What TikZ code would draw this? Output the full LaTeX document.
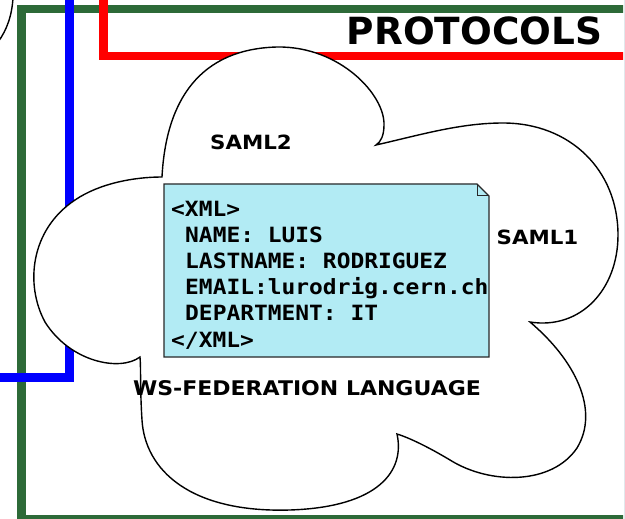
\documentclass[tikz,border=0pt]{standalone}
\usepackage{fontspec}
\setmainfont{DejaVu Sans}
\newfontfamily\widefont[FakeStretch=1.09]{DejaVu Sans}
\newfontfamily\codefont[FakeStretch=1.09]{DejaVu Sans Mono}
\definecolor{framegreen}{RGB}{45,106,56}
\definecolor{notecyan}{RGB}{178,235,244}
\definecolor{noteedge}{RGB}{40,40,40}
\definecolor{edgegray}{RGB}{225,232,236}
\tikzset{
  band/.style={line width=8.5pt, line join=miter},
  cloudline/.style={draw=black, line width=1.4pt, fill=white},
  label/.style={font=\widefont\bfseries\fontsize{19.6}{22}\selectfont, inner sep=0pt},
  codeline/.style={font=\codefont\bfseries\fontsize{21}{26}\selectfont, anchor=base west, inner sep=0pt},
}
\begin{document}
\begin{tikzpicture}[x=1pt,y=-1pt]
\useasboundingbox (0,0) rectangle (625,519);

% coloured frames
\begin{scope}
  \clip (0,0) rectangle (623,519);
  \draw[band, framegreen] (21.5,540) -- (21.5,9) -- (660,9);
  \draw[band, framegreen] (21.5,519) -- (660,519);
  \draw[band, blue] (69.5,-10) -- (69.5,377.5) -- (-10,377.5);
  \draw[band, red] (103.5,-10) -- (103.5,56) -- (660,56);
\end{scope}
\draw[edgegray, line width=1pt] (624.5,0) -- (624.5,519);

% arc in the upper left corner
\draw[black, line width=1.4pt] (13,-2) .. controls (12,15) and (7,30) .. (-2,42);

% cloud
\path[cloudline]
  (162,177) .. controls (166,100) and (200,49) .. (277,47)
            .. controls (340,46) and (385,95) .. (384,125)
            .. controls (384,135) and (381,142) .. (376,145)
            .. controls (420,135) and (460,123) .. (503,123)
            .. controls (570,123) and (618,170) .. (618,235)
            .. controls (618,290) and (580,330) .. (530,322)
            .. controls (575,360) and (600,410) .. (577,448)
            .. controls (552,485) and (490,485) .. (450,460)
            .. controls (430,448) and (410,438) .. (397,434)
            .. controls (405,470) and (380,507) .. (290,510)
            .. controls (190,513) and (145,470) .. (142,420)
            .. controls (140,390) and (141,368) .. (140,357)
            .. controls (120,372) and (70,362) .. (45,322)
            .. controls (25,285) and (30,230) .. (75,200)
            .. controls (100,183) and (135,177) .. (162,177) -- cycle;

% note with folded corner
\path[fill=notecyan, draw=noteedge, line width=1.3pt, line join=miter]
  (164,184) -- (477,184) -- (489,196) -- (489,357) -- (164,357) -- cycle;
\draw[noteedge, line width=1pt] (477,184) -- (477,196) -- (489,196);

% note contents
\node[codeline] (l1) at (171,216) {<XML>};
\node[codeline] (l2) at (185,242.2) {NAME: LUIS};
\node[codeline] (l3) at (185,268.4) {LASTNAME: RODRIGUEZ};
\node[codeline] (l4) at (185,294.6) {EMAIL:lurodrig.cern.ch};
\node[codeline] (l5) at (185,320.8) {DEPARTMENT: IT};
\node[codeline] (l6) at (171,347) {</XML>};

% labels
\node[font=\bfseries\fontsize{37.4}{40}\selectfont, inner sep=0pt, anchor=base] (title) at (474.5,45) {PROTOCOLS};
\node[label, anchor=base] (saml2) at (251,149.3) {SAML2};
\node[label, anchor=base] (saml1) at (537.5,244) {SAML1};
\node[label, font=\widefont\bfseries\fontsize{20.2}{22}\selectfont, anchor=base] (wsfed) at (307,395) {WS-FEDERATION LANGUAGE};
\end{tikzpicture}
\end{document}
